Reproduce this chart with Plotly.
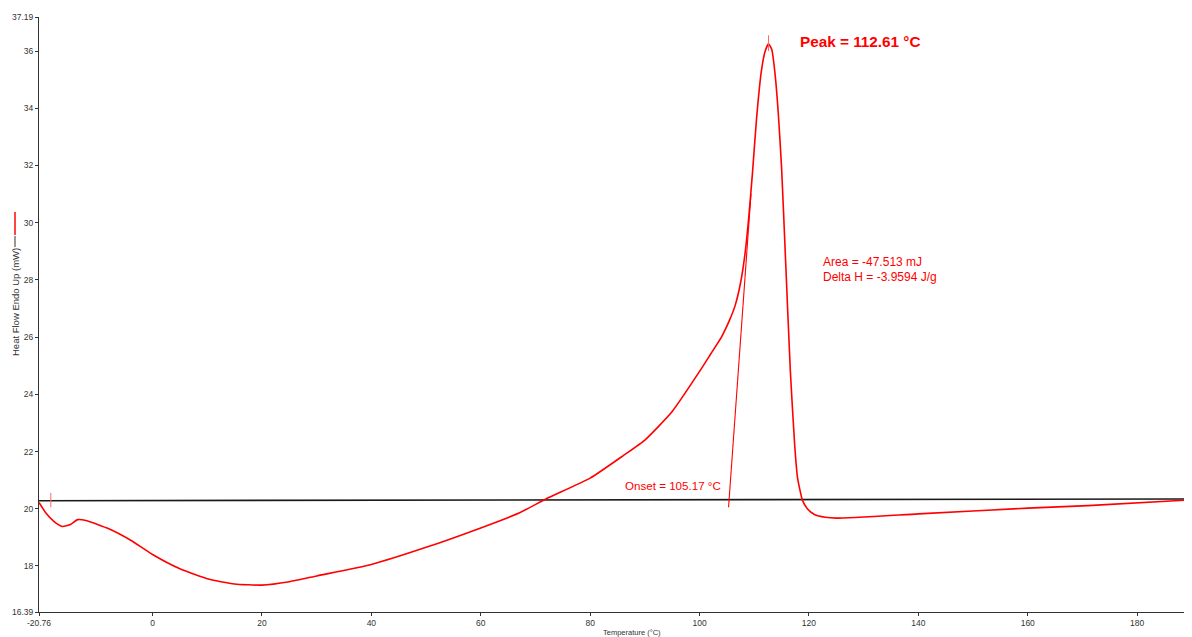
import plotly.graph_objects as go

# ---- data ----
temperature = [-20.76, -19.5, -18.0, -16.5, -15.0, -13.7, -12.0, -8.0, -4.0, 0.0, 5.0, 10.0, 15.0,
               20.0, 25.0, 30.0, 40.0, 50.0, 60.0, 67.0, 72.0, 80.0, 86.0, 90.0, 95.0, 100.0,
               102.0, 104.0, 105.5, 106.5, 107.5, 108.3, 109.0, 109.7, 110.4, 111.3, 112.0, 112.61,
               113.2, 113.8, 114.4, 115.0, 115.7, 116.6, 117.4, 117.9, 118.8, 119.7, 121.0, 123.0,
               125.0, 140.0, 160.0, 171.0, 190.0]
heat_flow = [20.22, 19.85, 19.55, 19.38, 19.45, 19.62, 19.58, 19.30, 18.90, 18.40, 17.90, 17.55, 17.37,
             17.33, 17.45, 17.65, 18.05, 18.65, 19.33, 19.85, 20.35, 21.07, 21.85, 22.40, 23.40, 24.80,
             25.40, 26.00, 26.60, 27.10, 27.90, 28.90, 30.20, 31.80, 33.60, 35.30, 36.00, 36.25,
             36.05, 35.20, 33.80, 31.90, 28.80, 24.80, 22.20, 21.10, 20.30, 20.00, 19.80, 19.70,
             19.67, 19.82, 20.02, 20.11, 20.31]

baseline_temp = [-20.76, 190.0]
baseline_flow = [20.28, 20.34]

onset_temp = [105.3, 109.4]
onset_flow = [20.05, 31.0]

peak_temp = 112.61
peak_tick_flow = [36.0, 36.55]
start_temp = -18.6
start_tick_flow = [20.05, 20.55]

x_ticks = [-20.76, 0, 20, 40, 60, 80, 100, 120, 140, 160, 180]
x_labels = ["-20.76", "0", "20", "40", "60", "80", "100", "120", "140", "160", "180"]
y_ticks = [16.39, 18, 20, 22, 24, 26, 28, 30, 32, 34, 36, 37.19]
y_labels = ["16.39", "18", "20", "22", "24", "26", "28", "30", "32", "34", "36", "37.19"]

RED = "#ff0000"
FONT = "Liberation Sans, Arial, sans-serif"

# The page body has an 8px margin; the figure is sized/positioned to compensate.
OFF = 8
FIG_W = 1192
FIG_H = 637 - OFF
L, T = 39 - OFF, 17 - OFF
PLOT_BOTTOM = 612 - OFF
B = FIG_H - PLOT_BOTTOM
X_MIN = -20.76
X_SCALE = (700 - 153) / 100.0          # px per degree in the reference
X_MAX = X_MIN + (FIG_W - L) / X_SCALE  # axis end lands just past the visible page edge

fig = go.Figure()
fig.add_trace(go.Scatter(x=baseline_temp, y=baseline_flow, mode="lines",
                         line=dict(color="#1a1a1a", width=1.6), hoverinfo="skip"))
fig.add_trace(go.Scatter(x=temperature, y=heat_flow, mode="lines",
                         line=dict(color=RED, width=1.6, shape="spline", smoothing=0.5)))
fig.add_trace(go.Scatter(x=onset_temp, y=onset_flow, mode="lines",
                         line=dict(color=RED, width=1.1), hoverinfo="skip"))
fig.add_trace(go.Scatter(x=[peak_temp, peak_temp], y=peak_tick_flow, mode="lines",
                         line=dict(color="#ff6666", width=1), hoverinfo="skip"))
fig.add_trace(go.Scatter(x=[start_temp, start_temp], y=start_tick_flow, mode="lines",
                         line=dict(color="#ff6666", width=1), hoverinfo="skip"))

axis_common = dict(showgrid=False, zeroline=False, showline=True, linecolor="#333333",
                   linewidth=1, ticks="outside", ticklen=3, tickcolor="#333333",
                   tickfont=dict(family=FONT, size=8.5, color="#333333"))

fig.update_layout(
    width=FIG_W, height=FIG_H, autosize=False,
    margin=dict(l=L, r=0, t=T, b=B, pad=0),
    paper_bgcolor="white", plot_bgcolor="white",
    showlegend=False,
    xaxis=dict(range=[X_MIN, X_MAX], tickmode="array", tickvals=x_ticks, ticktext=x_labels,
               **axis_common),
    yaxis=dict(range=[16.39, 37.19], tickmode="array", tickvals=y_ticks, ticktext=y_labels,
               **axis_common),
)

W = FIG_W - L
H = PLOT_BOTTOM - T

def px(xp):
    # page pixel -> paper coordinate
    return (xp - OFF - L) / W

def py(yp):
    return (PLOT_BOTTOM - (yp - OFF)) / H

annotations = [
    dict(text="Temperature (°C)", xref="paper", yref="paper", x=px(632), y=py(632),
         xanchor="center", yanchor="middle", showarrow=False,
         font=dict(family=FONT, size=7.5, color="#333333")),
    dict(text="Heat Flow Endo Up (mW)", xref="paper", yref="paper", x=px(15), y=py(302),
         xanchor="center", yanchor="middle", showarrow=False, textangle=-90,
         font=dict(family=FONT, size=9.5, color="#333333")),
    dict(text="<b>Peak = 112.61 °C</b>", xref="paper", yref="paper", x=px(860), y=py(42),
         xanchor="center", yanchor="middle", showarrow=False,
         font=dict(family=FONT, size=15.3, color=RED)),
    dict(text="Area = -47.513 mJ", xref="paper", yref="paper", x=px(821), y=py(262),
         xanchor="left", yanchor="middle", showarrow=False,
         font=dict(family=FONT, size=12, color=RED)),
    dict(text="Delta H = -3.9594 J/g", xref="paper", yref="paper", x=px(821), y=py(277),
         xanchor="left", yanchor="middle", showarrow=False,
         font=dict(family=FONT, size=12, color=RED)),
    dict(text="Onset = 105.17 °C", xref="paper", yref="paper", x=px(623), y=py(485),
         xanchor="left", yanchor="middle", showarrow=False,
         font=dict(family=FONT, size=11.6, color=RED)),
]
fig.update_layout(annotations=annotations)

shapes = [
    dict(type="line", xref="paper", yref="paper", x0=px(15), x1=px(15), y0=py(212), y1=py(235),
         line=dict(color="#ff4444", width=2)),
    dict(type="line", xref="paper", yref="paper", x0=px(15), x1=px(15), y0=py(236), y1=py(247),
         line=dict(color="#333333", width=1)),
]
fig.update_layout(shapes=shapes)

fig.write_html("out.html")
